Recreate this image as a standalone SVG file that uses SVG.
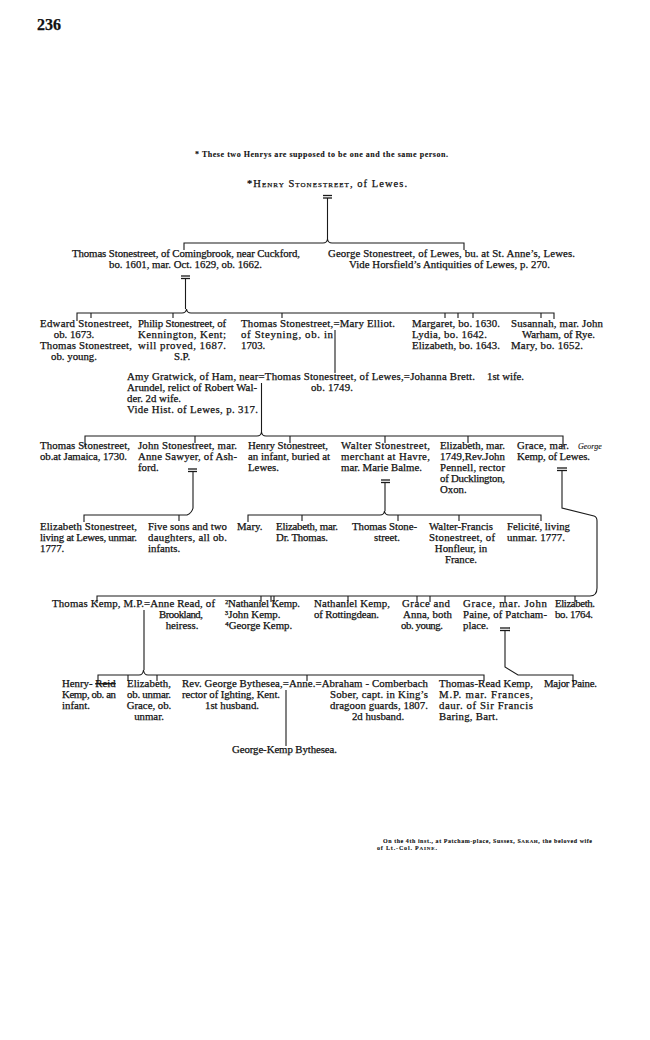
<svg xmlns="http://www.w3.org/2000/svg" width="650" height="1040" viewBox="0 0 650 1040">
<style>
.t{font-family:"Liberation Serif","Times New Roman",serif;font-size:10.8px;fill:#111;stroke:#111;stroke-width:0.25}
.m{text-anchor:middle}
.s{font-size:8px;font-weight:bold;stroke-width:0.1}
.c{stroke:#1a1a1a;stroke-width:1.1;fill:none}
.e{stroke:#1a1a1a;stroke-width:1.3}
</style>
<rect width="650" height="1040" fill="#fff"/>
<g id="page">
<text class="t" x="37" y="30" style="font-size:16px;font-weight:bold">236</text>
<text class="t s" x="195" y="157" textLength="253">* These two Henrys are supposed to be one and the same person.</text>
</g>
<g id="connectors">
<!-- Henry -->
<line class="e" x1="323" y1="195.5" x2="332" y2="195.5"/><line class="e" x1="323" y1="198" x2="332" y2="198"/>
<path class="c" d="M327.5,198 V240 M184,250 V243 H323 Q327,243 327.5,239 Q328,243 332,243 H464 V250"/>
<!-- Thomas of Comingbrook -->
<line class="e" x1="181" y1="276" x2="190" y2="276"/><line class="e" x1="181" y1="278.5" x2="190" y2="278.5"/>
<path class="c" d="M185.5,278.5 V309 M77,321 V313 H182 Q186,313 186.5,309 Q187,313 191,313 H554 V319 M91,313 V318 M173,313 V318 M282,313 V318 M445,313 V318 M458,313 V318 M473,313 V318 M541,313 V318"/>
<!-- Steyning -->
<path class="c" d="M335,330 V373"/>
<!-- Thomas of Lewes -->
<path class="c" d="M261.5,383 V432 M85,447 V436 H257 Q261,436 261.5,432 Q262,436 266,436 H563 V447 M195,436 V443 M290,436 V443 M385,436 V443 M468,436 V443"/>
<!-- John Sawyer -->
<line class="e" x1="188" y1="469" x2="197" y2="469"/><line class="e" x1="188" y1="471.5" x2="197" y2="471.5"/>
<path class="c" d="M193,471.5 V508 Q192,513 187,515 H84 V522 M179,515 V521"/>
<!-- Walter -->
<line class="e" x1="381" y1="480" x2="390" y2="480"/><line class="e" x1="381" y1="482.5" x2="390" y2="482.5"/>
<path class="c" d="M385,482.5 V511 M248,522 V515 H380 Q384,515 384.5,511 Q385,515 389,515 H541 V521 M302,515 V521 M398,515 V521 M459,515 V521"/>
<!-- Grace & George Kemp -->
<line class="e" x1="557" y1="468" x2="567" y2="468"/><line class="e" x1="557" y1="470.5" x2="567" y2="470.5"/>
<path class="c" d="M562,470.5 V508 L594,516 Q597,517 597,521 V588 Q597,596 590,596 H97 V603 M261,596 V602 M271,596 V602 M274,596 V602 M348,596 V602 M417,596 V602 M430,596 V602 M505,596 V602 M575,596 V602"/>
<!-- Thomas Kemp -->
<path class="c" d="M144,610 V670 M98,683 V675 H139 Q143,675 143.5,670 Q144,675 148,675 H484 V681 M128,675 V681 M157,675 V681 M307,675 V681"/>
<!-- Grace & John Paine -->
<line class="e" x1="500" y1="628" x2="510" y2="628"/><line class="e" x1="500" y1="630.5" x2="510" y2="630.5"/>
<path class="c" d="M505,630.5 V667 L518,675 H573 V682"/>
<!-- Bythesea -->
<path class="c" d="M286,690 V746"/>
</g>
<g id="henry">
<text class="t" x="247" y="187" textLength="160" style="font-size:10.5px">*<tspan style="font-variant:small-caps">Henry Stonestreet</tspan>, of Lewes.</text>
</g>
<g id="thomas-comingbrook">
<text class="t" x="72" y="257" textLength="228">Thomas Stonestreet, of Comingbrook, near Cuckford,</text>
<text class="t" x="109" y="268" textLength="153">bo. 1601, mar. Oct. 1629, ob. 1662.</text>
</g>
<g id="george">
<text class="t" x="328" y="257" textLength="247">George Stonestreet, of Lewes, bu. at St. Anne’s, Lewes.</text>
<text class="t" x="349" y="268" textLength="201">Vide Horsfield’s Antiquities of Lewes, p. 270.</text>
</g>
<g id="edward">
<text class="t" x="40" y="327" textLength="92">Edward Stonestreet,</text>
<text class="t m" x="74" y="338">ob. 1673.</text>
<text class="t" x="40" y="349" textLength="92">Thomas Stonestreet,</text>
<text class="t m" x="74" y="360">ob. young.</text>
</g>
<g id="philip">
<text class="t" x="138" y="327" textLength="88">Philip Stonestreet, of</text>
<text class="t" x="138" y="338" textLength="88">Kennington, Kent;</text>
<text class="t" x="138" y="349" textLength="88">will proved, 1687.</text>
<text class="t m" x="182" y="360">S.P.</text>
</g>
<g id="thomas-steyning">
<text class="t" x="241" y="327" textLength="154">Thomas Stonestreet,=Mary Elliot.</text>
<text class="t" x="241" y="338" textLength="92">of Steyning, ob. in</text>
<text class="t" x="241" y="349">1703.</text>
</g>
<g id="margaret">
<text class="t" x="412" y="327" textLength="88">Margaret, bo. 1630.</text>
<text class="t" x="412" y="338" textLength="75">Lydia, bo. 1642.</text>
<text class="t" x="412" y="349" textLength="88">Elizabeth, bo. 1643.</text>
</g>
<g id="susannah">
<text class="t" x="511" y="327" textLength="92">Susannah, mar. John</text>
<text class="t" x="522" y="338" textLength="73">Warham, of Rye.</text>
<text class="t" x="511" y="349" textLength="72">Mary, bo. 1652.</text>
</g>
<g id="thomas-lewes">
<text class="t" x="127" y="380" textLength="348">Amy Gratwick, of Ham, near=Thomas Stonestreet, of Lewes,=Johanna Brett.</text>
<text class="t" x="487" y="380" textLength="37">1st wife.</text>
<text class="t" x="127" y="391" textLength="130">Arundel, relict of Robert Wal-</text>
<text class="t" x="311" y="391" textLength="42">ob. 1749.</text>
<text class="t" x="127" y="402">der.  2d wife.</text>
<text class="t" x="127" y="413" textLength="131">Vide Hist. of Lewes, p. 317.</text>
</g>
<g id="thomas-jamaica">
<text class="t" x="40" y="449" textLength="90">Thomas Stonestreet,</text>
<text class="t" x="40" y="460" textLength="87">ob.at Jamaica, 1730.</text>
</g>
<g id="john">
<text class="t" x="138" y="449" textLength="99">John Stonestreet, mar.</text>
<text class="t" x="138" y="460" textLength="99">Anne Sawyer, of Ash-</text>
<text class="t" x="138" y="471">ford.</text>
</g>
<g id="henry-infant">
<text class="t" x="248" y="449" textLength="80">Henry Stonestreet,</text>
<text class="t" x="248" y="460" textLength="82">an infant, buried at</text>
<text class="t" x="248" y="471">Lewes.</text>
</g>
<g id="walter">
<text class="t" x="341" y="449" textLength="89">Walter Stonestreet,</text>
<text class="t" x="341" y="460" textLength="89">merchant at Havre,</text>
<text class="t" x="341" y="471" textLength="81">mar. Marie Balme.</text>
</g>
<g id="elizabeth-pennell">
<text class="t" x="440" y="449" textLength="65">Elizabeth, mar.</text>
<text class="t" x="440" y="460" textLength="65">1749,Rev.John</text>
<text class="t" x="440" y="471" textLength="65">Pennell, rector</text>
<text class="t" x="440" y="482" textLength="65">of Ducklington,</text>
<text class="t" x="440" y="493">Oxon.</text>
</g>
<g id="grace-kemp">
<text class="t" x="517" y="449" textLength="52">Grace, mar.</text>
<text class="t" x="578" y="449" style="font-size:8px;font-style:italic;stroke-width:0.1">George</text>
<text class="t" x="517" y="460" textLength="73">Kemp, of Lewes.</text>
</g>
<g id="elizabeth-lewes">
<text class="t" x="40" y="530" textLength="97">Elizabeth Stonestreet,</text>
<text class="t" x="40" y="541" textLength="97">living at Lewes, unmar.</text>
<text class="t" x="40" y="552">1777.</text>
</g>
<g id="five-sons">
<text class="t" x="148" y="530" textLength="79">Five sons and two</text>
<text class="t" x="148" y="541" textLength="79">daughters, all ob.</text>
<text class="t" x="148" y="552">infants.</text>
</g>
<g id="mary">
<text class="t" x="237" y="530">Mary.</text>
</g>
<g id="elizabeth-thomas">
<text class="t" x="276" y="530" textLength="62">Elizabeth, mar.</text>
<text class="t" x="276" y="541" textLength="52">Dr. Thomas.</text>
</g>
<g id="thomas-stonestreet-walter">
<text class="t" x="352" y="530" textLength="65">Thomas Stone-</text>
<text class="t m" x="387" y="541">street.</text>
</g>
<g id="walter-francis">
<text class="t" x="429" y="530" textLength="64">Walter-Francis</text>
<text class="t" x="429" y="541" textLength="66">Stonestreet, of</text>
<text class="t m" x="461" y="552">Honfleur, in</text>
<text class="t m" x="461" y="563">France.</text>
</g>
<g id="felicite">
<text class="t" x="507" y="530" textLength="63">Felicité, living</text>
<text class="t" x="507" y="541" textLength="58">unmar. 1777.</text>
</g>
<g id="thomas-kemp">
<text class="t" x="52" y="607" textLength="163">Thomas Kemp, M.P.=Anne Read, of</text>
<text class="t" x="159" y="618" textLength="44">Brookland,</text>
<text class="t m" x="182" y="629">heiress.</text>
</g>
<g id="kemp-sons">
<text class="t" x="225" y="607" textLength="75">²Nathaniel Kemp.</text>
<text class="t" x="225" y="618">³John Kemp.</text>
<text class="t" x="225" y="629">⁴George Kemp.</text>
</g>
<g id="nathaniel-rottingdean">
<text class="t" x="314" y="607" textLength="76">Nathaniel Kemp,</text>
<text class="t" x="314" y="618" textLength="65">of Rottingdean.</text>
</g>
<g id="grace-anna">
<text class="t" x="402" y="607" textLength="48">Grace and</text>
<text class="t" x="403" y="618" textLength="49">Anna, both</text>
<text class="t" x="401" y="629" textLength="42">ob. young.</text>
</g>
<g id="grace-paine">
<text class="t" x="463" y="607" textLength="84">Grace, mar. John</text>
<text class="t" x="463" y="618" textLength="84">Paine, of Patcham-</text>
<text class="t" x="463" y="629">place.</text>
</g>
<g id="elizabeth-1764">
<text class="t" x="555" y="607" textLength="40">Elizabeth.</text>
<text class="t" x="555" y="618" textLength="38">bo. 1764.</text>
</g>
<g id="henry-reid">
<text class="t" x="62" y="687">Henry- <tspan style="text-decoration:line-through">Reid</tspan></text>
<text class="t" x="62" y="698" textLength="54">Kemp, ob. an</text>
<text class="t" x="62" y="709">infant.</text>
</g>
<g id="elizabeth-grace">
<text class="t" x="127" y="687" textLength="44">Elizabeth,</text>
<text class="t" x="127" y="698" textLength="44">ob. unmar.</text>
<text class="t m" x="149" y="709">Grace, ob.</text>
<text class="t m" x="149" y="720">unmar.</text>
</g>
<g id="anne-bythesea">
<text class="t" x="182" y="687" textLength="246">Rev. George Bythesea,=Anne.=Abraham - Comberbach</text>
<text class="t" x="182" y="698" textLength="98">rector of Ighting, Kent.</text>
<text class="t m" x="232" y="709">1st husband.</text>
<text class="t" x="330" y="698" textLength="98">Sober, capt. in King’s</text>
<text class="t" x="330" y="709" textLength="98">dragoon guards, 1807.</text>
<text class="t m" x="378" y="720">2d husband.</text>
</g>
<g id="george-kemp-bythesea">
<text class="t" x="232" y="753" textLength="105">George-Kemp Bythesea.</text>
</g>
<g id="thomas-read-kemp">
<text class="t" x="439" y="687" textLength="94">Thomas-Read Kemp,</text>
<text class="t" x="439" y="698" textLength="94">M.P. mar. Frances,</text>
<text class="t" x="439" y="709" textLength="94">daur. of Sir Francis</text>
<text class="t" x="439" y="720" textLength="59">Baring, Bart.</text>
</g>
<g id="major-paine">
<text class="t" x="544" y="687" textLength="53">Major Paine.</text>
</g>
<g id="note">
<text class="t" x="383" y="843" textLength="209" style="font-size:6px;font-weight:bold;stroke-width:0.1">On the 4th inst., at Patcham-place, Sussex, S<tspan style="font-size:5px">ARAH</tspan>, the beloved wife</text>
<text class="t" x="377" y="850" textLength="60" style="font-size:6px;font-weight:bold;stroke-width:0.1">of Lt.-Col. P<tspan style="font-size:5px">AINE</tspan>.</text>
</g>
</svg>
